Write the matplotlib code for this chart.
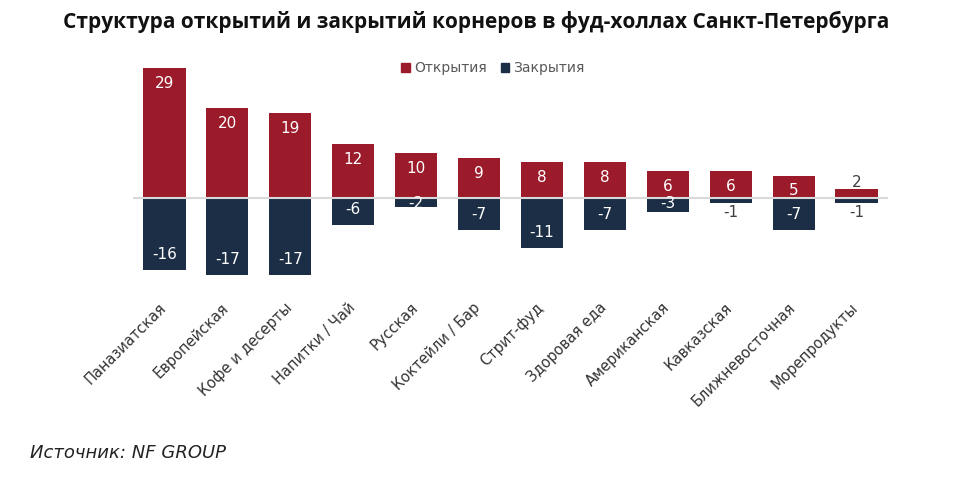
import matplotlib
matplotlib.use("Agg")
import matplotlib.pyplot as plt
from matplotlib.patches import Patch
from matplotlib.transforms import ScaledTranslation

categories = ["Паназиатская", "Европейская", "Кофе и десерты", "Напитки / Чай",
              "Русская", "Коктейли / Бар", "Стрит-фуд", "Здоровая еда",
              "Американская", "Кавказская", "Ближневосточная", "Морепродукты"]
openings = [29, 20, 19, 12, 10, 9, 8, 8, 6, 6, 5, 2]
closings = [-16, -17, -17, -6, -2, -7, -11, -7, -3, -1, -7, -1]

RED = "#9B1B2B"
NAVY = "#1B2E45"
TFONT = "Open Sans"
FONT = "DejaVu Sans"

W, H = 967, 478
fig = plt.figure(figsize=(W / 100, H / 100), dpi=100)
x0, x1 = 133, 888
ytop, ybot = 55, 290
ax = fig.add_axes([x0 / W, 1 - ybot / H, (x1 - x0) / W, (ybot - ytop) / H])
zero_px, ppu = 198, 4.5
ax.set_ylim(-(ybot - zero_px) / ppu, (zero_px - ytop) / ppu)
ax.set_xlim(-0.5, len(categories) - 0.5)

xs = list(range(len(categories)))
bw = 0.67
ax.bar(xs, openings, width=bw, color=RED, zorder=2)
ax.bar(xs, closings, width=bw, color=NAVY, zorder=2)
ax.axhline(0, color="#d9d9d9", lw=1.5, zorder=3)

lab_fs = 11
for x, v in zip(xs, openings):
    if v >= 4:
        y = max(v - 3.5, 1.7)
        ax.text(x, y, str(v), ha="center", va="center", color="white",
                fontsize=lab_fs, family=FONT, zorder=4)
    else:
        ax.text(x, v + 1.4, str(v), ha="center", va="center", color="#404040",
                fontsize=lab_fs, family=FONT, zorder=4)
for x, v in zip(xs, closings):
    if v <= -2:
        y = min(v + 3.4, -1.2)
        ax.text(x, y, str(v), ha="center", va="center", color="white",
                fontsize=lab_fs, family=FONT, zorder=4)
    else:
        ax.text(x, v - 2.2, str(v), ha="center", va="center", color="#404040",
                fontsize=lab_fs, family=FONT, zorder=4)

for s in ax.spines.values():
    s.set_visible(False)
ax.set_yticks([])
ax.set_xticks(xs)
ax.set_xticklabels(categories, rotation=45, ha="right", rotation_mode="anchor",
                   fontsize=10.5, family=FONT, color="#333333")
ax.tick_params(axis="x", length=0, pad=0)
shift = ScaledTranslation(-6 / 100, -2 / 100, fig.dpi_scale_trans)
for lbl in ax.get_xticklabels():
    lbl.set_y(-0.035)
    lbl.set_transform(lbl.get_transform() + shift)

fig.text(476 / W, 1 - 22 / H, "Структура открытий и закрытий корнеров в фуд-холлах Санкт-Петербурга",
         ha="center", va="center", fontsize=15, fontweight="bold", family=TFONT, color="#111111")

handles = [Patch(color=RED, label="Открытия"), Patch(color=NAVY, label="Закрытия")]
fig.legend(handles=handles, loc="center", bbox_to_anchor=(493 / W, 1 - 68 / H), ncol=2,
           frameon=False, prop={"family": FONT, "size": 10}, labelcolor="#595959",
           handlelength=0.6, handleheight=0.6, handletextpad=0.3, columnspacing=1.0)

fig.text(30 / W, 1 - 453 / H, "Источник: NF GROUP", ha="left", va="center",
         fontsize=13, style="italic", family=FONT, color="#222222")

fig.savefig("out.png", dpi=100, facecolor="white")
